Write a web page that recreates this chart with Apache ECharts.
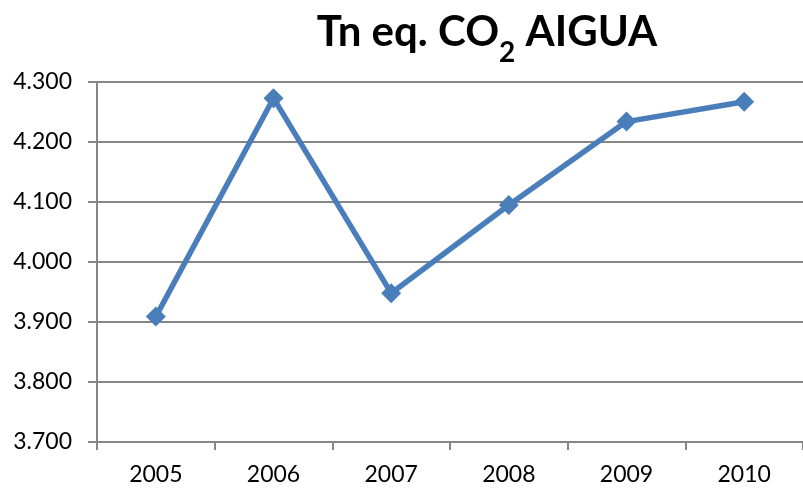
<!DOCTYPE html>
<html>
<head>
<meta charset="utf-8">
<script src="https://cdn.jsdelivr.net/npm/echarts@6/dist/echarts.min.js"></script>
<style>html,body{margin:0;padding:0;background:#fff}#c{width:803px;height:489px}</style>
</head>
<body>
<div id="c"></div>
<script>
const years = ['2005', '2006', '2007', '2008', '2009', '2010'];
const co2Water = [3909, 4273, 3948, 4095, 4234, 4267];
const yMin = 3700, yMax = 4300, yStep = 100;

function fmt(v) {
  const t = Math.floor(v / 1000), r = Math.round(v % 1000);
  return t + '.' + String(r).padStart(3, '0');
}

const chart = echarts.init(document.getElementById('c'), null, {renderer: 'canvas'});
chart.setOption({
  backgroundColor: '#ffffff',
  animation: false,
  title: {
    text: 'Tn eq. CO{sub|2} AIGUA',
    left: 482, top: 6, textAlign: 'center',
    textStyle: {
      fontFamily: 'Lato', fontWeight: 'bold', fontSize: 42, color: '#000',
      rich: {
        sub: {fontFamily: 'Lato', fontWeight: 'bold', fontSize: 28, color: '#000', verticalAlign: 'bottom', padding: [0, 0, -14, 0]}
      }
    }
  },
  grid: {left: 97, top: 82, width: 711, height: 360, containLabel: false},
  xAxis: {
    type: 'category', data: years, boundaryGap: true,
    axisLine: {show: true, lineStyle: {color: '#868686', width: 2}},
    axisTick: {show: true, alignWithLabel: false, length: 8, lineStyle: {color: '#868686', width: 2}},
    axisLabel: {fontFamily: 'Lato', fontSize: 23, color: '#000', margin: 21},
    splitLine: {show: false}
  },
  yAxis: {
    type: 'value', min: yMin, max: yMax, interval: yStep,
    axisLine: {show: true, lineStyle: {color: '#868686', width: 2}},
    axisTick: {show: true, length: 9, lineStyle: {color: '#868686', width: 2}},
    axisLabel: {fontFamily: 'Lato', fontSize: 23, color: '#000', margin: 25, formatter: fmt},
    splitLine: {show: true, lineStyle: {color: '#868686', width: 2}}
  },
  series: [{
    type: 'line', data: co2Water,
    symbol: 'diamond', symbolSize: 20,
    lineStyle: {color: '#4a7ebb', width: 5.5},
    itemStyle: {color: '#4a7ebb'}
  }]
});
</script>
</body>
</html>
